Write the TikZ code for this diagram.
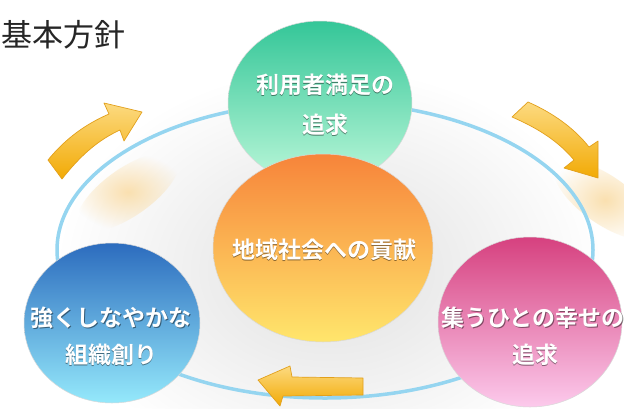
\documentclass[tikz,border=0pt]{standalone}
\usepackage{fontspec}
\newfontfamily\cjk{Noto Sans CJK JP}
\newfontfamily\cjkb{Noto Sans CJK JP Bold}
\usetikzlibrary{shapes.geometric,fadings}
\tikzfading[name=softglow, inner color=transparent!0, outer color=transparent!100]
\definecolor{ringblue}{HTML}{95D5F0}
\definecolor{greentop}{HTML}{34C698}
\definecolor{greenmid}{HTML}{55D9AE}
\definecolor{greenbot}{HTML}{BDF8DA}
\definecolor{orangetop}{HTML}{F7843A}
\definecolor{orangemid}{HTML}{FB9E40}
\definecolor{orangebot}{HTML}{FFE66C}
\definecolor{bluetop}{HTML}{2C6CBE}
\definecolor{bluemid}{HTML}{4B9EE6}
\definecolor{bluebot}{HTML}{95E9FB}
\definecolor{pinktop}{HTML}{D6417F}
\definecolor{pinkmid}{HTML}{F05BA8}
\definecolor{pinkbot}{HTML}{FCCAEC}
\definecolor{arrowlight}{HTML}{FCDA80}
\definecolor{arrowdark}{HTML}{F2AA05}
\definecolor{arrowedge}{HTML}{E2A01C}
\definecolor{titlegray}{HTML}{262626}
\definecolor{glow}{HTML}{FAE0B0}
\tikzset{
  ball/.style={ellipse, inner sep=0pt, draw=white!70!gray, line width=0.5pt},
  lbl/.style={text=white, font=\cjkb\fontsize{23}{23}\selectfont, inner sep=0pt},
  lblshadow/.style={lbl, text=black, text opacity=0.45},
  arrowsty/.style={top color=arrowlight, bottom color=arrowdark, draw=arrowedge, line width=0.7pt, line join=round},
  softfill/.style={fill=#1, path fading=softglow},
}
\newcommand\glabel[3]{%
  \node[lblshadow, xshift=0.9pt, yshift=-1.1pt] (#1s) at #2 {#3};
  \node[lbl] (#1) at #2 {#3};}
\begin{document}
\begin{tikzpicture}[x=1pt,y=-1pt]
\useasboundingbox (0,0) rectangle (624,408);
\fill[white] (0,0) rectangle (624,408);
% soft backgrounds
\fill[softfill=black!12] (330,270) ellipse [x radius=270pt, y radius=200pt];
\fill[softfill=glow, rotate around={35:(128,192)}] (128,192) ellipse [x radius=60pt, y radius=24pt];
\fill[softfill=glow, rotate around={-35:(605,200)}] (605,200) ellipse [x radius=60pt, y radius=24pt];
% title
\node[font=\cjk\fontsize{31}{31}\selectfont, text=titlegray, anchor=west, inner sep=0pt] (title) at (1,35) {基本方針};
% ring
\draw[ringblue, line width=3.5pt] (325,250) ellipse [x radius=268pt, y radius=148pt];
% arrows
\draw[arrowsty] (48,160) .. controls (66,138) and (86,124) .. (109,114) -- (104,103) -- (142,112) -- (124,141) -- (120,130) .. controls (98,140) and (80,156) .. (62,179) -- cycle;
\draw[arrowsty] (528,102) .. controls (553,113) and (574,128) .. (589,147) -- (598,141) -- (598,178) -- (564,168) -- (574,160) .. controls (560,143) and (540,129) .. (512,117) -- cycle;
\draw[arrowsty] (363,378) -- (292,377) -- (290,366) -- (258,380) -- (280,406) -- (283,396) -- (363,395) -- cycle;
% balls
\node[ball, minimum width=176pt, minimum height=160pt, top color=bluetop, middle color=bluemid, bottom color=bluebot] (blue) at (112,323) {};
\node[ball, minimum width=184pt, minimum height=170pt, top color=pinktop, middle color=pinkmid, bottom color=pinkbot] (pink) at (530,322) {};
\node[ball, minimum width=184pt, minimum height=164pt, top color=greentop, middle color=greenmid, bottom color=greenbot] (green) at (320,103) {};
\node[ball, minimum width=220pt, minimum height=188pt, top color=orangetop, middle color=orangemid, bottom color=orangebot] (orange) at (323,248) {};
% labels
\glabel{g1}{(325,85)}{利用者満足の}
\glabel{g2}{(325,125)}{追求}
\glabel{o1}{(324,250)}{地域社会への貢献}
\glabel{b1}{(111,318)}{強くしなやかな}
\glabel{b2}{(111,355)}{組織創り}
\glabel{p1}{(533,318)}{集うひとの幸せの}
\glabel{p2}{(535,355)}{追求}
\end{tikzpicture}
\end{document}
